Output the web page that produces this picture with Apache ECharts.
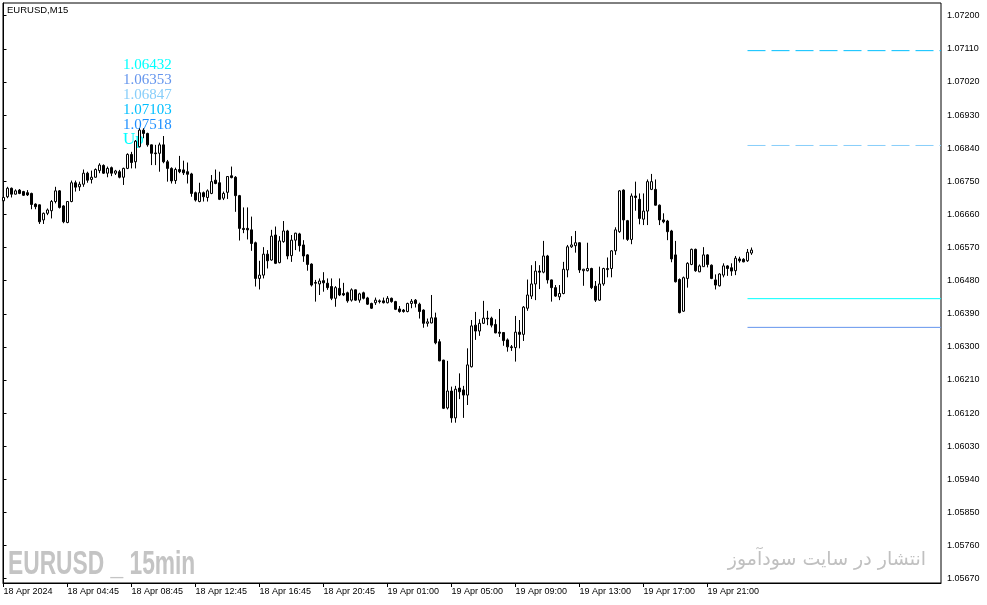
<!DOCTYPE html>
<html><head><meta charset="utf-8">
<script src="https://cdn.jsdelivr.net/npm/echarts@6/dist/echarts.min.js"></script>
<style>html,body{margin:0;padding:0;background:#fff}#c{width:987px;height:605px}</style>
</head><body><div id="c"></div>
<script>
const opens = [
1.06697,1.06708,1.06731,1.06715,1.06726,1.06722,1.06719,1.06717,1.06688,1.06686,
1.06645,1.06663,1.06670,1.06695,1.06724,1.06683,1.06638,1.06695,1.06746,1.06735,
1.06742,1.06772,1.06755,1.06761,1.06779,1.06793,1.06772,1.06787,1.06772,1.06776,
1.06761,1.06785,1.06823,1.06803,1.06844,1.06889,1.06880,1.06849,1.06827,1.06826,
1.06849,1.06803,1.06785,1.06752,1.06782,1.06781,1.06776,1.06770,1.06719,1.06695,
1.06719,1.06706,1.06717,1.06753,1.06746,1.06704,1.06720,1.06765,1.06761,1.06711,
1.06622,1.06622,1.06618,1.06583,1.06486,1.06495,1.06552,1.06536,1.06604,1.06529,
1.06586,1.06615,1.06548,1.06590,1.06607,1.06577,1.06550,1.06525,1.06475,1.06471,
1.06480,1.06473,1.06464,1.06432,1.06459,1.06445,1.06447,1.06427,1.06455,1.06427,
1.06447,1.06433,1.06418,1.06420,1.06425,1.06425,1.06420,1.06432,1.06423,1.06403,
1.06400,1.06396,1.06418,1.06427,1.06416,1.06400,1.06364,1.06365,1.06379,1.06314,
1.06264,1.06134,1.06180,1.06107,1.06188,1.06183,1.06169,1.06246,1.06359,1.06343,
1.06364,1.06378,1.06378,1.06361,1.06340,1.06339,1.06319,1.06300,1.06298,1.06340,
1.06334,1.06405,1.06438,1.06471,1.06506,1.06503,1.06547,1.06482,1.06461,1.06436,
1.06445,1.06509,1.06572,1.06575,1.06583,1.06507,1.06507,1.06513,1.06465,1.06427,
1.06471,1.06510,1.06513,1.06561,1.06613,1.06726,1.06643,1.06592,1.06710,1.06701,
1.06647,1.06669,1.06728,1.06728,1.06685,1.06645,1.06642,1.06615,1.06550,1.06483,
1.06397,1.06486,1.06524,1.06565,1.06504,1.06518,1.06550,1.06522,1.06482,1.06466,
1.06495,1.06520,1.06515,1.06507,1.06539,1.06538,1.06534,1.06555];
const highs = [
1.06710,1.06735,1.06733,1.06728,1.06729,1.06724,1.06726,1.06719,1.06690,1.06687,
1.06665,1.06676,1.06699,1.06735,1.06726,1.06685,1.06696,1.06752,1.06752,1.06749,
1.06782,1.06776,1.06779,1.06785,1.06799,1.06796,1.06790,1.06790,1.06781,1.06781,
1.06787,1.06826,1.06830,1.06862,1.06894,1.06894,1.06882,1.06850,1.06849,1.06855,
1.06873,1.06808,1.06788,1.06787,1.06819,1.06806,1.06801,1.06773,1.06722,1.06746,
1.06722,1.06728,1.06767,1.06782,1.06776,1.06722,1.06764,1.06790,1.06764,1.06713,
1.06679,1.06679,1.06654,1.06586,1.06534,1.06571,1.06563,1.06618,1.06627,1.06601,
1.06642,1.06618,1.06604,1.06610,1.06610,1.06590,1.06552,1.06527,1.06482,1.06486,
1.06503,1.06486,1.06486,1.06465,1.06486,1.06474,1.06450,1.06459,1.06456,1.06447,
1.06450,1.06436,1.06420,1.06434,1.06429,1.06434,1.06438,1.06434,1.06425,1.06411,
1.06403,1.06420,1.06430,1.06430,1.06420,1.06402,1.06377,1.06441,1.06393,1.06321,
1.06265,1.06262,1.06192,1.06194,1.06228,1.06194,1.06296,1.06373,1.06395,1.06375,
1.06425,1.06398,1.06382,1.06375,1.06403,1.06340,1.06323,1.06305,1.06384,1.06373,
1.06411,1.06483,1.06522,1.06533,1.06522,1.06588,1.06550,1.06483,1.06468,1.06468,
1.06531,1.06577,1.06601,1.06615,1.06584,1.06512,1.06583,1.06515,1.06479,1.06518,
1.06515,1.06543,1.06563,1.06625,1.06726,1.06728,1.06645,1.06717,1.06749,1.06717,
1.06717,1.06755,1.06770,1.06755,1.06687,1.06663,1.06645,1.06618,1.06588,1.06486,
1.06491,1.06530,1.06567,1.06567,1.06524,1.06571,1.06552,1.06524,1.06497,1.06500,
1.06527,1.06522,1.06527,1.06547,1.06545,1.06541,1.06566,1.06570];
const lows = [
1.06690,1.06704,1.06706,1.06714,1.06715,1.06710,1.06710,1.06674,1.06674,1.06634,
1.06634,1.06658,1.06649,1.06690,1.06676,1.06636,1.06636,1.06693,1.06722,1.06724,
1.06735,1.06746,1.06744,1.06760,1.06772,1.06770,1.06761,1.06764,1.06767,1.06758,
1.06740,1.06783,1.06785,1.06785,1.06842,1.06867,1.06844,1.06794,1.06794,1.06776,
1.06799,1.06749,1.06744,1.06743,1.06772,1.06767,1.06744,1.06708,1.06695,1.06693,
1.06695,1.06695,1.06715,1.06742,1.06699,1.06699,1.06702,1.06758,1.06667,1.06589,
1.06609,1.06592,1.06561,1.06464,1.06456,1.06486,1.06513,1.06534,1.06525,1.06527,
1.06583,1.06538,1.06531,1.06563,1.06559,1.06531,1.06507,1.06464,1.06423,1.06441,
1.06450,1.06455,1.06427,1.06409,1.06438,1.06438,1.06420,1.06423,1.06425,1.06420,
1.06429,1.06414,1.06403,1.06414,1.06418,1.06418,1.06418,1.06420,1.06400,1.06393,
1.06393,1.06394,1.06405,1.06407,1.06377,1.06352,1.06355,1.06364,1.06307,1.06261,
1.06131,1.06130,1.06094,1.06094,1.06158,1.06107,1.06142,1.06244,1.06319,1.06330,
1.06362,1.06359,1.06353,1.06337,1.06327,1.06303,1.06287,1.06289,1.06260,1.06296,
1.06316,1.06398,1.06430,1.06427,1.06457,1.06500,1.06472,1.06423,1.06436,1.06427,
1.06443,1.06489,1.06569,1.06556,1.06501,1.06466,1.06505,1.06457,1.06422,1.06425,
1.06466,1.06489,1.06489,1.06550,1.06610,1.06592,1.06588,1.06579,1.06670,1.06633,
1.06631,1.06631,1.06726,1.06684,1.06631,1.06636,1.06590,1.06530,1.06475,1.06391,
1.06395,1.06461,1.06522,1.06504,1.06503,1.06518,1.06516,1.06484,1.06456,1.06464,
1.06489,1.06493,1.06493,1.06495,1.06529,1.06530,1.06531,1.06550];
const closes = [
1.06706,1.06731,1.06715,1.06724,1.06717,1.06712,1.06713,1.06687,1.06681,1.06640,
1.06663,1.06672,1.06695,1.06724,1.06679,1.06640,1.06695,1.06746,1.06734,1.06742,
1.06772,1.06753,1.06761,1.06782,1.06794,1.06772,1.06785,1.06772,1.06778,1.06761,
1.06785,1.06823,1.06801,1.06859,1.06889,1.06880,1.06849,1.06826,1.06825,1.06849,
1.06803,1.06785,1.06751,1.06782,1.06776,1.06773,1.06769,1.06717,1.06699,1.06719,
1.06708,1.06724,1.06749,1.06744,1.06701,1.06717,1.06763,1.06760,1.06711,1.06622,
1.06619,1.06618,1.06581,1.06486,1.06495,1.06552,1.06534,1.06601,1.06527,1.06588,
1.06615,1.06547,1.06590,1.06609,1.06575,1.06547,1.06524,1.06468,1.06473,1.06479,
1.06474,1.06461,1.06432,1.06461,1.06441,1.06441,1.06425,1.06455,1.06427,1.06444,
1.06432,1.06416,1.06405,1.06427,1.06423,1.06420,1.06432,1.06423,1.06402,1.06396,
1.06396,1.06418,1.06424,1.06418,1.06396,1.06364,1.06368,1.06379,1.06311,1.06262,
1.06133,1.06180,1.06107,1.06185,1.06178,1.06169,1.06251,1.06357,1.06343,1.06364,
1.06378,1.06376,1.06359,1.06338,1.06337,1.06317,1.06300,1.06298,1.06340,1.06334,
1.06408,1.06441,1.06471,1.06506,1.06503,1.06547,1.06482,1.06461,1.06438,1.06445,
1.06511,1.06572,1.06577,1.06583,1.06509,1.06511,1.06513,1.06461,1.06427,1.06471,
1.06513,1.06513,1.06561,1.06618,1.06724,1.06645,1.06592,1.06710,1.06706,1.06649,
1.06669,1.06749,1.06749,1.06685,1.06645,1.06640,1.06613,1.06539,1.06477,1.06393,
1.06488,1.06527,1.06565,1.06507,1.06520,1.06550,1.06524,1.06486,1.06468,1.06498,
1.06520,1.06513,1.06506,1.06541,1.06534,1.06531,1.06557,1.06563];

const xTickIndex = [0,16,32,48,64,80,96,112,128,144,160,176];
const xTickLabels = ['18 Apr 2024','18 Apr 04:45','18 Apr 08:45','18 Apr 12:45','18 Apr 16:45','18 Apr 20:45',
  '19 Apr 01:00','19 Apr 05:00','19 Apr 09:00','19 Apr 13:00','19 Apr 17:00','19 Apr 21:00'];
const yTicks = [1.05670,1.05760,1.05850,1.05940,1.06030,1.06120,1.06210,1.06300,1.06390,
  1.06480,1.06570,1.06660,1.06750,1.06840,1.06930,1.07020,1.07110,1.07200];
const levelValues = [1.07105, 1.068473, 1.06431, 1.06353];
const levelFromBar = 186;
const infoTexts = ['1.06432','1.06353','1.06847','1.07103','1.07518','Up'];
const symbolTitle = 'EURUSD,M15';
const watermarkLeft = 'EURUSD _ 15min';
const watermarkRight = 'انتشار در سایت سودآموز';

// styles
const levelColors = ['#00BFFF', '#87CEFA', '#00FFFF', '#6495ED'];
const levelDashed = [true, true, false, false];
const infoColors = ['#00FFFF', '#6495ED', '#87CEFA', '#00BFFF', '#1E90FF', '#00FFFF'];

const X_MIN = -0.125, X_MAX = 234.375;
const candleData = opens.map((o, i) => [i, o, closes[i], lows[i], highs[i]]);

const chart = echarts.init(document.getElementById('c'), null, {renderer: 'canvas'});

const series = [{
  type: 'candlestick',
  data: candleData,
  encode: {x: 0, y: [1, 2, 3, 4]},
  barWidth: 2,
  itemStyle: {color: '#ffffff', color0: '#000000', borderColor: '#000000', borderColor0: '#000000', borderColorDoji: '#000000', borderWidth: 1},
  emphasis: {disabled: true},
  silent: true,
  z: 3
}];
levelValues.forEach((v, k) => {
  series.push({
    type: 'line',
    data: [[levelFromBar, v], [X_MAX, v]],
    symbol: 'none',
    silent: true,
    z: 2,
    lineStyle: {color: levelColors[k], width: 1, type: levelDashed[k] ? [18, 6] : 'solid'}
  });
});

const graphics = [
  {type: 'text', left: 7, top: 5, z: 10, style: {text: symbolTitle, font: '9.5px "Liberation Sans", Arial, sans-serif', fill: '#000'}},
  {type: 'text', x: 8, y: 548, z: 1, scaleX: 0.69, style: {text: watermarkLeft, font: 'bold 33px "Liberation Sans", Arial, sans-serif', fill: '#c4c4c4'}},
  {type: 'text', right: 61, top: 551, z: 1, style: {text: watermarkRight, font: '19px "DejaVu Sans", sans-serif', fill: '#c0c0c0'}}
];
infoTexts.forEach((t, k) => {
  const isUp = k === infoTexts.length - 1;
  graphics.push({type: 'text', left: 123, top: 58 + 15 * k - (isUp ? 2 : 0), z: 1,
    style: {text: t, font: (isUp ? '17px' : '15px') + ' "Liberation Serif", "DejaVu Serif", serif', fill: infoColors[k]}});
});

chart.setOption({
  animation: false,
  backgroundColor: '#ffffff',
  grid: {left: 3, right: 46, top: 3, bottom: 22, show: true, borderColor: '#000', borderWidth: 1, backgroundColor: 'transparent'},
  xAxis: {
    type: 'value', min: X_MIN, max: X_MAX,
    axisLine: {show: true, lineStyle: {color: '#000', width: 1}},
    splitLine: {show: false},
    axisTick: {show: true, length: 4, lineStyle: {color: '#000'}, customValues: xTickIndex},
    axisLabel: {show: true, customValues: xTickIndex, align: 'left', margin: 4, color: '#000',
      fontSize: 9, fontFamily: '"Liberation Sans", Arial, sans-serif',
      formatter: v => { const k = xTickIndex.indexOf(Math.round(v)); return k >= 0 ? xTickLabels[k] : ''; }}
  },
  yAxis: {
    type: 'value', position: 'right', min: 1.056583, max: 1.072345, scale: true,
    axisLine: {show: true, lineStyle: {color: '#000', width: 1}},
    splitLine: {show: false},
    axisTick: {show: true, length: 3, lineStyle: {color: '#000'}, customValues: yTicks},
    axisLabel: {show: true, customValues: yTicks, margin: 6, color: '#000',
      fontSize: 9, fontFamily: '"Liberation Sans", Arial, sans-serif',
      formatter: v => v.toFixed(5)}
  },
  graphic: graphics,
  series: series
});
</script>
</body></html>
